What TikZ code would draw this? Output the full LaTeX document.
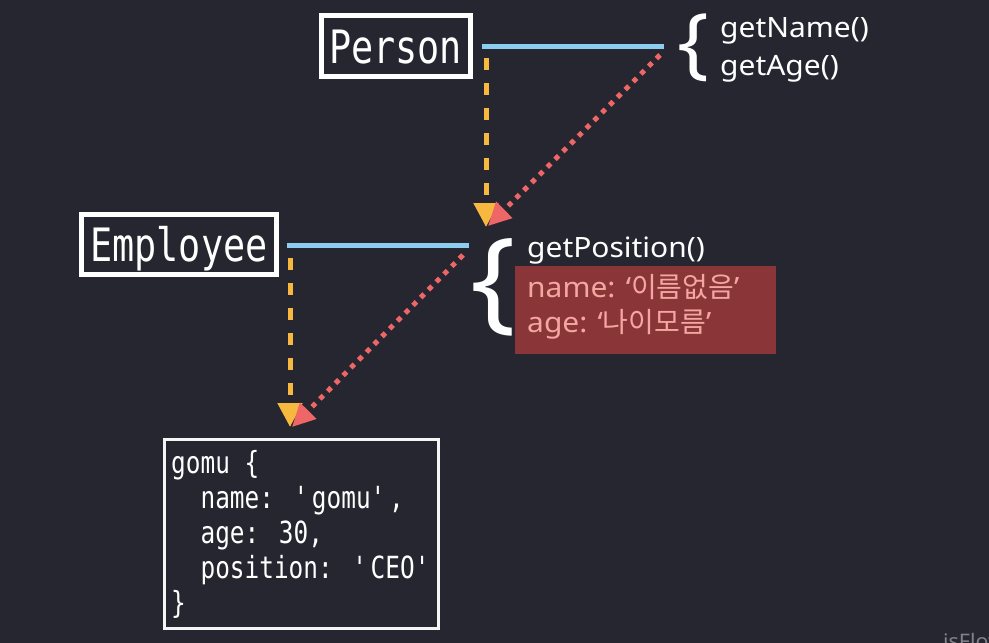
\documentclass[tikz,border=0pt]{standalone}
\usepackage{fontspec}
\usetikzlibrary{arrows.meta}

\newfontfamily\codefont[FakeStretch=0.8]{DejaVu Sans Mono}
\newfontfamily\uifont[FakeStretch=1.07]{Noto Sans}
\newfontfamily\kofont{Noto Sans CJK KR}

\definecolor{bgdark}{RGB}{37,38,48}
\definecolor{protoblue}{RGB}{140,204,238}
\definecolor{inheritorange}{RGB}{246,184,62}
\definecolor{lookupred}{RGB}{238,102,102}
\definecolor{fieldred}{RGB}{138,53,56}
\definecolor{fieldpink}{RGB}{244,166,162}
\definecolor{markgray}{RGB}{130,130,138}

\tikzset{
  classbox/.style={draw=white,line width=5pt,text=white,inner sep=0pt,
    font=\codefont\fontsize{46}{55}\selectfont,text height=34pt,text depth=0pt},
  protoline/.style={draw=protoblue,line width=5pt},
  inherit/.style={draw=inheritorange,line width=5pt,dash pattern=on 12pt off 13pt,
    -{Triangle[width=24pt,length=24pt]}},
  lookup/.style={draw=lookupred,line width=5pt,dash pattern=on 5pt off 6pt,
    -{Triangle[width=22pt,length=23pt]}},
  method/.style={text=white,inner sep=0pt,font=\uifont\fontsize{28}{34}\selectfont},
  field/.style={text=fieldpink,inner sep=0pt,font=\uifont\fontsize{28}{34}\selectfont},
  curly/.style={text=white,inner sep=0pt},
  objbox/.style={draw=white!92!gray,line width=3pt,inner sep=0pt}
}

\begin{document}
\begin{tikzpicture}[x=1pt,y=-1pt]
  \useasboundingbox (0,0) rectangle (989,643);
  \clip (0,0) rectangle (989,643);
  \fill[bgdark] (0,0) rectangle (989,643);

  % classes
  \node[classbox,minimum width=149pt,minimum height=61pt] (person) at (395.5,46) {Person};
  \node[classbox,minimum width=195pt,minimum height=60pt] (employee) at (179,244.5) {Employee};

  % prototype of Person
  \coordinate (personLineL) at (482,46);
  \coordinate (personLineR) at (664,46);
  \node[curly,font=\uifont\fontsize{78}{78}\selectfont] (personBrace) at (693,47.5) {\{};
  \node[method,anchor=base west] (getName) at (720,37) {getName()};
  \node[method,anchor=base west] (getAge) at (720,75) {getAge()};

  % prototype of Employee
  \coordinate (employeeLineL) at (287,245);
  \coordinate (employeeLineR) at (469,245);
  \node[curly,font=\uifont\fontsize{112}{112}\selectfont] (employeeBrace) at (493.5,287.5) {\{};
  \node[method,anchor=base west] (getPosition) at (527,257) {getPosition()};
  \node[fill=fieldred,inner sep=0pt,minimum width=261pt,minimum height=88pt,anchor=north west]
    (fields) at (515,266) {};
  \node[field,anchor=base west] (nameField) at (527,297) {name: ‘{\kofont 이름없음}’};
  \node[field,anchor=base west] (ageField) at (527,332) {age: ‘{\kofont 나이모름}’};

  % instance
  \node[objbox,minimum width=274pt,minimum height=189pt,anchor=north west] (gomu) at (163,438) {};
  \node[text=white,inner sep=0pt,anchor=base west,font=\codefont\fontsize{30.5}{35}\selectfont]
    (gomuCode) at (171,473) {\begin{tabular}[t]{@{}l@{}}
      gomu \{\\
      \ \ name: \textquotesingle gomu\textquotesingle,\\
      \ \ age: 30,\\
      \ \ position: \textquotesingle CEO\textquotesingle\\
      \}
    \end{tabular}};

  % arrow ends
  \coordinate (personDown) at (486,58);
  \coordinate (personTip) at (486,227);
  \coordinate (personLook) at (660,55);
  \coordinate (personLookTip) at (488,226);
  \coordinate (employeeDown) at (290,258);
  \coordinate (employeeTip) at (290,427);
  \coordinate (employeeLook) at (463,255);
  \coordinate (employeeLookTip) at (292,427);

  \draw[protoline] (personLineL) -- (personLineR);
  \draw[protoline] (employeeLineL) -- (employeeLineR);

  \draw[inherit] (personDown) -- (personTip);
  \draw[inherit] (employeeDown) -- (employeeTip);
  \draw[lookup] (personLook) -- (personLookTip);
  \draw[lookup] (employeeLook) -- (employeeLookTip);

  \node[text=markgray,inner sep=0pt,anchor=base west,font=\uifont\fontsize{20}{24}\selectfont]
    (mark) at (943,648) {isFlow};
\end{tikzpicture}
\end{document}
